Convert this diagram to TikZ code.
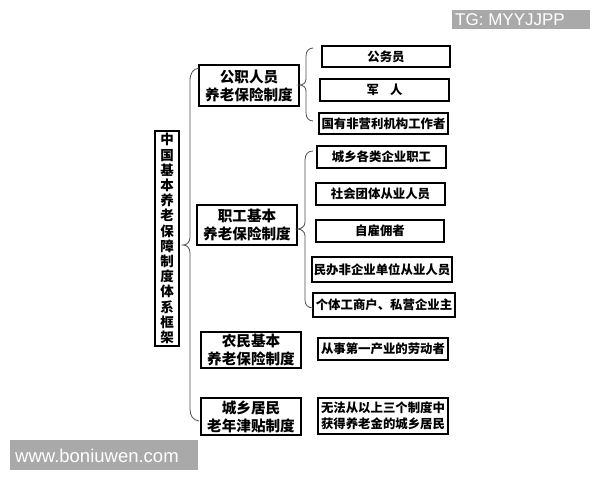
\documentclass[tikz,border=0pt]{standalone}
\usepackage{fontspec}
\setmainfont{Liberation Sans}
\newfontfamily\cjk{Noto Sans CJK SC}
\definecolor{wm}{HTML}{A9A9A9}
\definecolor{brc}{HTML}{505050}
\tikzset{
  lvtwo/.style={draw, line width=1.1pt, minimum width=100pt, minimum height=39pt, inner sep=0pt, align=center, font=\cjk\bfseries\fontsize{14.6}{18}\selectfont},
  lvthree/.style={draw, line width=1.1pt, minimum height=22pt, inner sep=0pt, align=center, font=\cjk\bfseries\fontsize{12.4}{15.5}\selectfont},
  rootbox/.style={draw, line width=1.1pt, minimum width=24pt, minimum height=215pt, inner sep=0pt, align=center, font=\cjk\bfseries\fontsize{13.5}{15.2}\selectfont},
  brc/.style={draw=brc, line width=0.8pt},
  wmbox/.style={fill=wm, inner sep=0pt, text=white}
}
\begin{document}
\begin{tikzpicture}[x=1pt,y=-1pt]
\useasboundingbox (0,0) rectangle (600,480);
\fill[white] (0,0) rectangle (600,480);
% root
\node[rootbox] (root) at (167,238.5) {中\\国\\基\\本\\养\\老\\保\\障\\制\\度\\体\\系\\框\\架};
% level 2
\node[lvtwo, minimum height=41pt] (gz) at (249,85.5) {公职人员\\养老保险制度};
\node[lvtwo, minimum height=40pt] (zg) at (247,225) {职工基本\\养老保险制度};
\node[lvtwo, minimum height=36pt] (nm) at (251,350) {农民基本\\养老保险制度};
\node[lvtwo, minimum height=37pt] (cx) at (251,416.5) {城乡居民\\老年津贴制度};
% level 3, group 1
\node[lvthree, minimum width=128pt, minimum height=21pt] (a1) at (386,56.5) {公务员};
\node[lvthree, minimum width=129pt] (a2) at (384.5,90) {军\hspace{0.9em}人};
\node[lvthree, minimum width=129pt, minimum height=21pt] (a3) at (383.5,123.5) {国有非营利机构工作者};
% group 2
\node[lvthree, minimum width=129pt] (b1) at (381.5,157) {城乡各类企业职工};
\node[lvthree, minimum width=129pt] (b2) at (380.5,194) {社会团体从业人员};
\node[lvthree, minimum width=128pt] (b3) at (380,231) {自雇佣者};
\node[lvthree, minimum width=140pt, minimum height=25pt] (b4) at (382,269.5) {民办非企业单位从业人员};
\node[lvthree, minimum width=142pt, minimum height=24pt] (b5) at (384,305) {个体工商户、私营企业主};
% group 3, 4
\node[lvthree, minimum width=130pt] (c1) at (383,349) {从事第一产业的劳动者};
\node[lvthree, minimum width=130pt, minimum height=36pt] (d1) at (383,416) {无法从以上三个制度中\\获得养老金的城乡居民};
% braces
\draw[brc] (199,68) .. controls (193,69) and (190,73) .. (190,81) -- (190,237) .. controls (190,242) and (187,245) .. (183,245) .. controls (187,245) and (190,248) .. (190,253) -- (190,409) .. controls (190,416) and (193,420) .. (199,421);
\draw[brc] (313,48) .. controls (309,48) and (306,51) .. (306,56) -- (306,79) .. controls (306,83) and (303,85) .. (299,85) .. controls (303,85) and (306,87) .. (306,91) -- (306,113) .. controls (306,118) and (309,121) .. (313,121);
\draw[brc] (313,151) .. controls (308,151) and (305,154) .. (305,160) -- (305,222) .. controls (305,226) and (302,229) .. (297,229) .. controls (302,229) and (305,232) .. (305,236) -- (305,300) .. controls (305,305) and (308,308) .. (313,308);
% watermarks
\fill[wm] (452,10) rectangle (590,29);
\node[text=white, anchor=west, inner sep=0pt, font=\fontsize{17}{18}\selectfont] (wm1) at (455,20) {TG: MYYJJPP};
\fill[wm] (10,440) rectangle (198,470);
\node[text=white, anchor=west, inner sep=0pt, font=\fontsize{18.5}{20}\selectfont] (wm2) at (15,455.5) {www.boniuwen.com};
\end{tikzpicture}
\end{document}
